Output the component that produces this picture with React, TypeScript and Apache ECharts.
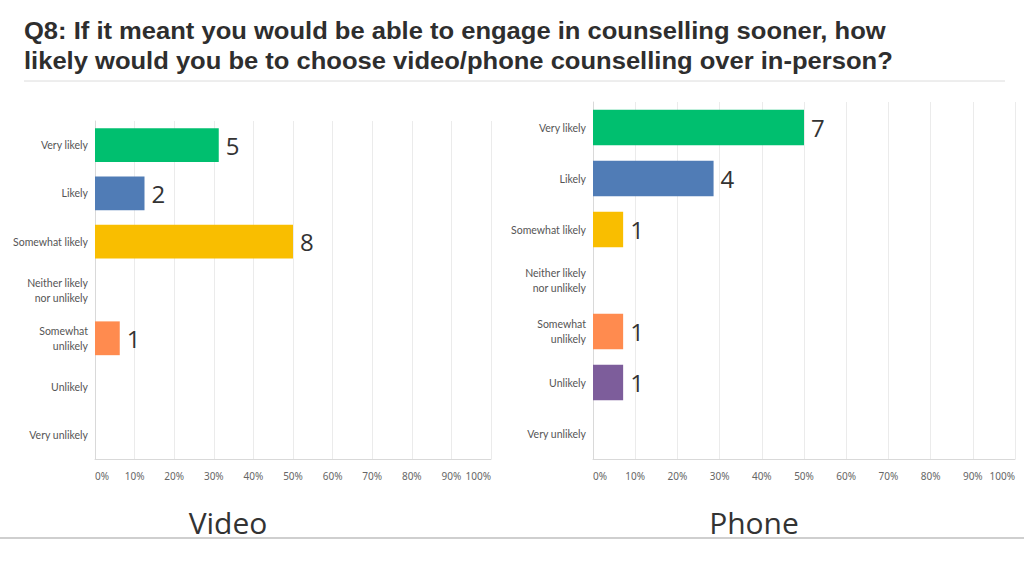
import React, { useEffect, useRef } from "react";
import * as echarts from "echarts";

const categories = [
  "Very likely",
  "Likely",
  "Somewhat likely",
  "Neither likely\nnor unlikely",
  "Somewhat\nunlikely",
  "Unlikely",
  "Very unlikely",
];
const videoCounts = [5, 2, 8, 0, 1, 0, 0];
const phoneCounts = [7, 4, 1, 0, 1, 1, 0];
const barColors = ["#00BF6F", "#507CB6", "#F9BE00", "#6BC8CD", "#FF8B4F", "#7D5D9B", "#C5B5A3"];
const titleLines = [
  "Q8: If it meant you would be able to engage in counselling sooner, how",
  "likely would you be to choose video/phone counselling over in-person?",
];
const panelTitles = ["Video", "Phone"];

function toData(counts: number[]) {
  const total = counts.reduce((a, b) => a + b, 0);
  return counts.map((c, i) =>
    c > 0
      ? { value: (c / total) * 100, count: c, itemStyle: { color: barColors[i] } }
      : { value: null, count: 0 }
  );
}

export default function App() {
  const ref = useRef<HTMLDivElement>(null);
  useEffect(() => {
    const chart = echarts.init(ref.current!, null, { renderer: "svg" });
    const xAxisBase = (gridIndex: number) => ({
      type: "value" as const,
      gridIndex,
      min: 0,
      max: 100,
      interval: 10,
      axisLine: { show: true, lineStyle: { color: "#d9d9d9" } },
      axisTick: { show: false },
      splitLine: { show: true, lineStyle: { color: "#ebebeb" } },
      axisLabel: {
        formatter: "{value}%",
        color: "#666",
        fontSize: 10,
        fontFamily: "Noto Sans",
        margin: 12,
        alignMinLabel: "left",
        alignMaxLabel: "right",
      },
    });
    const yAxisBase = (gridIndex: number) => ({
      type: "category" as const,
      gridIndex,
      data: categories,
      inverse: true,
      axisLine: { show: true, lineStyle: { color: "#d9d9d9" } },
      axisTick: { show: false },
      axisLabel: {
        color: "#555",
        fontSize: 10.5,
        fontFamily: "Lato",
        margin: 7,
        lineHeight: 15,
        align: "right",
      },
    });
    const seriesBase = (idx: number, counts: number[]) => ({
      type: "bar" as const,
      xAxisIndex: idx,
      yAxisIndex: idx,
      barCategoryGap: "30%",
      data: toData(counts),
      label: {
        show: true,
        position: "right",
        distance: 7,
        fontSize: 24,
        fontFamily: "Open Sans",
        color: "#333",
        formatter: (p: any) => (p.data && p.data.count ? String(p.data.count) : ""),
      },
    });
    chart.setOption({
      animation: false,
      backgroundColor: "#fff",
      grid: [
        { left: 95, width: 396, top: 121, height: 338 },
        { left: 593, width: 422, top: 102, height: 357 },
      ],
      xAxis: [xAxisBase(0), xAxisBase(1)],
      yAxis: [yAxisBase(0), yAxisBase(1)],
      series: [seriesBase(0, videoCounts), seriesBase(1, phoneCounts)],
      graphic: [
        {
          type: "text",
          x: 24,
          y: 16,
          scaleX: 1.065,
          style: {
            text: titleLines.join("\n"),
            font: "bold 24px 'Liberation Sans', Arial, sans-serif",
            fill: "#2e2e2e",
            lineHeight: 30,
          },
        },
        {
          type: "line",
          shape: { x1: 24, y1: 81, x2: 1005, y2: 81 },
          style: { stroke: "#dcdcdc", lineWidth: 1 },
        },
        {
          type: "line",
          shape: { x1: 0, y1: 538, x2: 1024, y2: 538 },
          style: { stroke: "#cfcfcf", lineWidth: 2 },
        },
        {
          type: "text",
          x: 228,
          y: 522,
          style: {
            text: panelTitles[0],
            font: "30px 'Open Sans', sans-serif",
            fill: "#333",
            align: "center",
            verticalAlign: "middle",
          },
        },
        {
          type: "text",
          x: 754,
          y: 522,
          style: {
            text: panelTitles[1],
            font: "30px 'Open Sans', sans-serif",
            fill: "#333",
            align: "center",
            verticalAlign: "middle",
          },
        },
      ],
    });
    return () => chart.dispose();
  }, []);
  return (
    <div
      ref={ref}
      style={{ position: "fixed", left: 0, top: 0, width: 1024, height: 576, background: "#fff" }}
    />
  );
}
